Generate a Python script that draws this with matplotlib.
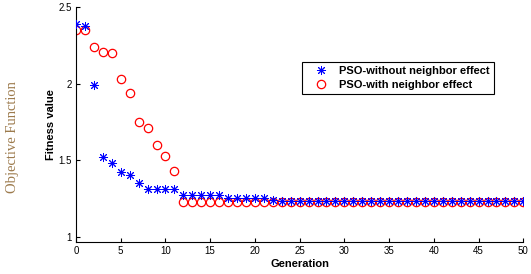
import matplotlib
matplotlib.use("Agg")
import matplotlib.pyplot as plt
import numpy as np

# 世代
generations = list(range(0, 51))

# PSO (近傍効果なし)
pso_without = [
    2.39, 2.38, 1.99, 1.52, 1.48, 1.42, 1.40, 1.35, 1.31, 1.31,
    1.31, 1.31, 1.27, 1.27, 1.27, 1.27, 1.27, 1.25, 1.25, 1.25,
    1.25, 1.25, 1.24,
] + [1.23] * 28

# PSO (近傍効果あり)
pso_with = [
    2.35, 2.35, 2.24, 2.21, 2.20, 2.03, 1.94, 1.75, 1.71, 1.60,
    1.53, 1.43,
] + [1.225] * 39

legend_labels = ["PSO-without neighbor effect", "PSO-with neighbor effect"]
y_ticks = [1, 1.5, 2, 2.5]
y_tick_labels = ["1", "1.5", "2", "2.5"]
x_ticks = list(range(0, 51, 5))

plt.rcParams["font.family"] = ["Liberation Sans", "DejaVu Sans"]

fig = plt.figure(figsize=(5.31, 2.74), dpi=100)
ax = fig.add_axes([0.1431, 0.1168, 0.8424, 0.8566])

# 赤い丸を先に描いて、青い星を上に重ねる
l1, = ax.plot(generations, pso_without, linestyle="none", marker=(8, 2, 0),
              markersize=6.5, markeredgewidth=0.7, color="#0000ff", zorder=3)
l2, = ax.plot(generations, pso_with, linestyle="none", marker="o",
              markersize=6, markeredgewidth=0.9, markerfacecolor="none",
              markeredgecolor="#ff0000", zorder=2)

ax.set_xlim(0, 50)
ax.set_ylim(0.965, 2.5)
ax.set_xticks(x_ticks)
ax.set_yticks(y_ticks)
ax.set_yticklabels(y_tick_labels)
ax.tick_params(direction="in", length=3, width=0.8, labelsize=7, pad=3)

for side in ["top", "right"]:
    ax.spines[side].set_visible(False)
for side in ["left", "bottom"]:
    ax.spines[side].set_linewidth(0.8)

ax.set_xlabel("Generation", fontsize=8, fontweight="bold", labelpad=2)
ax.set_ylabel("Fitness value", fontsize=8, fontweight="bold", labelpad=2)

leg = ax.legend(
    [l1, l2],
    legend_labels,
    loc="upper right",
    bbox_to_anchor=(0.9345, 0.767),
    borderaxespad=0,
    numpoints=1,
    fancybox=False,
    edgecolor="black",
    framealpha=1,
    prop={"size": 8, "weight": "bold"},
    borderpad=0.35,
    handlelength=2.8,
    handletextpad=0.25,
    labelspacing=0.35,
)
leg.get_frame().set_linewidth(0.8)

fig.text(0.024, 0.50, "Objective Function", rotation=90, ha="center",
         va="center", fontsize=10.5, color="#9c7a4c",
         family=["Liberation Serif", "DejaVu Serif"])

fig.savefig("out.png", dpi=100)
plt.close(fig)
